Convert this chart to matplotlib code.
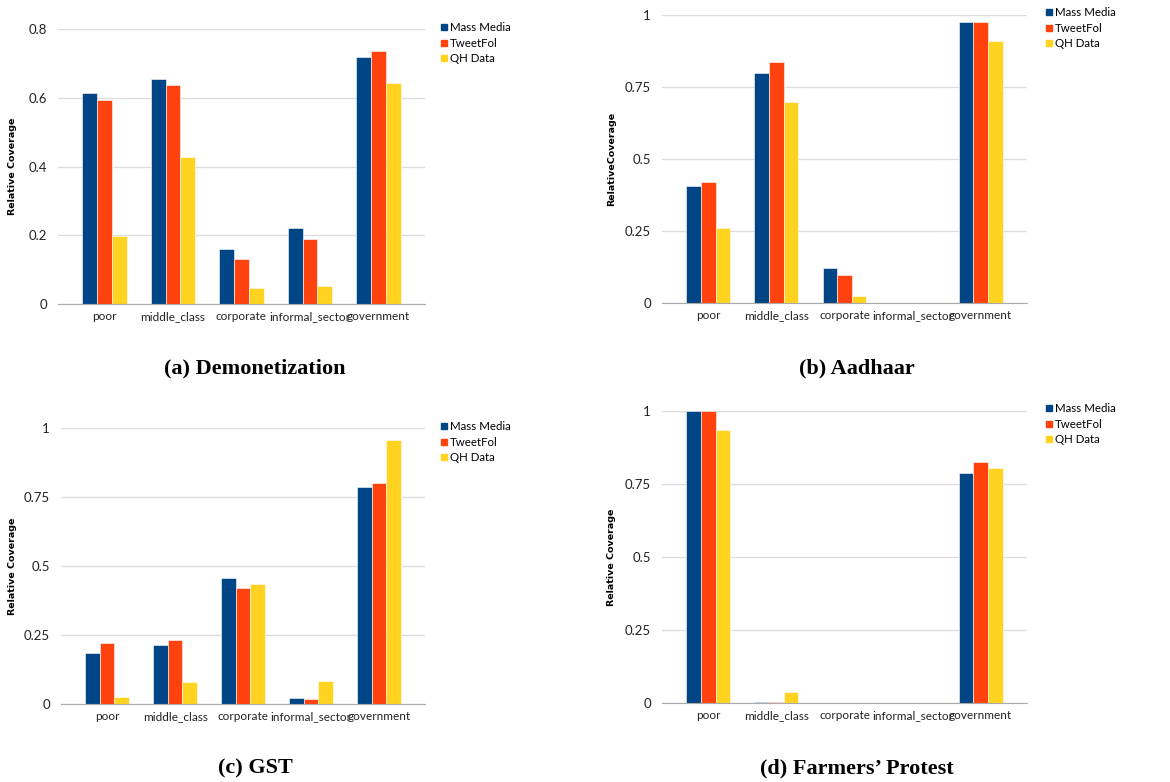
import matplotlib.pyplot as plt
from matplotlib.lines import Line2D
import numpy as np

W, H = 1170, 782

categories = ['poor', 'middle_class', 'corporate', 'informal_sector', 'government']
series = ['Mass Media', 'TweetFol', 'QH Data']
colors = ['#004586', '#FF420E', '#FFD320']

demo_mass = [0.615, 0.655, 0.160, 0.221, 0.719]
demo_tweet = [0.593, 0.637, 0.131, 0.188, 0.736]
demo_qh = [0.199, 0.428, 0.048, 0.052, 0.643]

aadhaar_mass = [0.406, 0.797, 0.122, 0.0, 0.977]
aadhaar_tweet = [0.421, 0.838, 0.096, 0.0, 0.977]
aadhaar_qh = [0.259, 0.697, 0.023, 0.0, 0.910]

gst_mass = [0.184, 0.213, 0.456, 0.023, 0.785]
gst_tweet = [0.221, 0.232, 0.420, 0.018, 0.799]
gst_qh = [0.025, 0.079, 0.435, 0.083, 0.958]

farm_mass = [1.0, 0.002, 0.0, 0.0, 0.786]
farm_tweet = [1.0, 0.002, 0.0, 0.0, 0.825]
farm_qh = [0.936, 0.038, 0.0, 0.0, 0.805]

panels = [
    dict(vals=[demo_mass, demo_tweet, demo_qh], ymax=0.8, yticks=[0, 0.2, 0.4, 0.6, 0.8],
         ylabels=['0', '0.2', '0.4', '0.6', '0.8'], box=(58, 29, 425, 304),
         ylab='Relative Coverage', ylab_x=13, leg=(441, 22),
         caption='(a) Demonetization', cap=(255, 368)),
    dict(vals=[aadhaar_mass, aadhaar_tweet, aadhaar_qh], ymax=1.0, yticks=[0, 0.25, 0.5, 0.75, 1],
         ylabels=['0', '0.25', '0.5', '0.75', '1'], box=(662, 15, 1027, 303),
         ylab='RelativeCoverage', ylab_x=612, leg=(1046, 7),
         caption='(b) Aadhaar', cap=(857, 368)),
    dict(vals=[gst_mass, gst_tweet, gst_qh], ymax=1.0, yticks=[0, 0.25, 0.5, 0.75, 1],
         ylabels=['0', '0.25', '0.5', '0.75', '1'], box=(61, 428, 425, 704),
         ylab='Relative Coverage', ylab_x=13, leg=(441, 421),
         caption='(c) GST', cap=(255, 768)),
    dict(vals=[farm_mass, farm_tweet, farm_qh], ymax=1.0, yticks=[0, 0.25, 0.5, 0.75, 1],
         ylabels=['0', '0.25', '0.5', '0.75', '1'], box=(662, 411, 1027, 703),
         ylab='Relative Coverage', ylab_x=612, leg=(1046, 403),
         caption='(d) Farmers\u2019 Protest', cap=(857, 768)),
]

tick_font = 'Lato'
fig = plt.figure(figsize=(W / 100, H / 100), dpi=100)

x = np.arange(len(categories))
bw = 0.215
for p in panels:
    x0, y0, x1, y1 = p['box']
    ax = fig.add_axes([x0 / W, 1 - y1 / H, (x1 - x0) / W, (y1 - y0) / H])
    for i, (v, c) in enumerate(zip(p['vals'], colors)):
        ax.bar(x + (i - 1) * bw, v, bw, color=c, edgecolor='white', linewidth=0.4, zorder=3)
    ax.set_xlim(-0.68, 4.68)
    ax.set_ylim(0, p['ymax'])
    ax.set_yticks(p['yticks'])
    ax.set_yticklabels(p['ylabels'], fontsize=9.5, family=tick_font, color='#222222')
    ax.set_xticks(x)
    ax.set_xticklabels(categories, fontsize=8.5, family=tick_font, color='#222222')
    ax.tick_params(length=0, pad=5)
    ax.tick_params(axis='y', pad=8)
    ax.grid(axis='y', color='#dddddd', linewidth=1, zorder=0)
    for s in ['top', 'right', 'left']:
        ax.spines[s].set_visible(False)
    ax.spines['bottom'].set_color('#aaaaaa')
    ax.spines['bottom'].set_zorder(4)

    cy = (y0 + y1) / 2
    fig.text(p['ylab_x'] / W, 1 - cy / H, p['ylab'], rotation=90, ha='center', va='center',
             fontsize=6.8, fontweight='bold', family='DejaVu Sans')

    handles = [Line2D([], [], marker='s', linestyle='none', markersize=4, color=c) for c in colors]
    fig.legend(handles, series, loc='upper left', bbox_to_anchor=(p['leg'][0] / W, 1 - p['leg'][1] / H),
               frameon=False, prop={'family': tick_font, 'size': 8.3}, handlelength=0.5,
               handletextpad=0.25, labelspacing=0.4, borderpad=0, borderaxespad=0)

    fig.text(p['cap'][0] / W, 1 - p['cap'][1] / H, p['caption'], ha='center', va='center',
             fontsize=16, fontweight='bold', family='Liberation Serif')

fig.savefig('out.png', dpi=100)
